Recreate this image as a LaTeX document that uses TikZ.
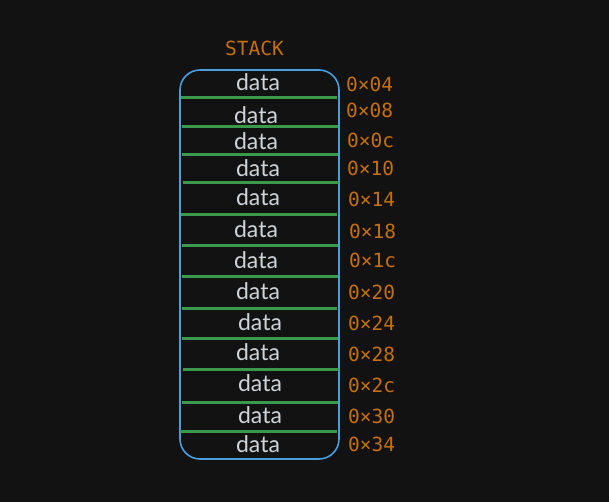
\documentclass[tikz,border=0pt]{standalone}
\usepackage{fontspec}
\setmainfont{Lato}
\newfontfamily\monof{DejaVu Sans Mono}
\definecolor{bg}{HTML}{121212}
\definecolor{boxblue}{HTML}{4A9EDD}
\definecolor{sepgreen}{HTML}{3A9A4C}
\definecolor{addr}{HTML}{C6700C}
\definecolor{datac}{HTML}{CED4DA}
\begin{document}
\begin{tikzpicture}[x=1pt,y=-1pt,
  cell/.style={text=datac,font=\fontsize{23}{23}\selectfont,inner sep=0pt,anchor=center},
  addrlbl/.style={text=addr,font=\monof\fontsize{19.5}{19.5}\selectfont,inner sep=0pt,anchor=west},
  sep/.style={draw=sepgreen,line width=3pt},
  stackbox/.style={draw=boxblue,line width=1.6pt,rounded corners=20pt}]
\fill[bg] (0,0) rectangle (609,502);
\useasboundingbox (0,0) rectangle (609,502);
\node[text=addr,font=\monof\fontsize{19.5}{19.5}\selectfont,inner sep=0pt] (title) at (254.5,48) {STACK};
\draw[stackbox] (180,70) rectangle (339,459);
% separators
\foreach \y/\a/\b [count=\i] in {98/181/337, 127/182/338, 155/182/338, 183/183/339, 215/181/337, 245/182/338, 276/182/338, 308/182/337, 338/182/338, 369/183/339, 402/182/338, 431/180/337}
  \draw[sep] (\a,\y) coordinate (l\i) -- (\b,\y) coordinate (r\i);
% data labels
\foreach \y/\x [count=\i] in {82/258, 115/256, 141/256, 168/258, 197/258, 229/256, 260/256, 291/258, 322/260, 352/258, 383/260, 415/260, 444/258}
  \node[cell] (d\i) at (\x,\y) {data};
% address labels
\foreach \y/\x/\t [count=\i] in {84/346/0×04, 110/346/0×08, 140/347/0×0c, 168/347/0×10, 199/348/0×14, 231/349/0×18, 260/349/0×1c, 292/348/0×20, 323/348/0×24, 354/348/0×28, 385/348/0×2c, 416/348/0×30, 444/348/0×34}
  \node[addrlbl] (a\i) at (\x,\y) {\t};
\end{tikzpicture}
\end{document}
